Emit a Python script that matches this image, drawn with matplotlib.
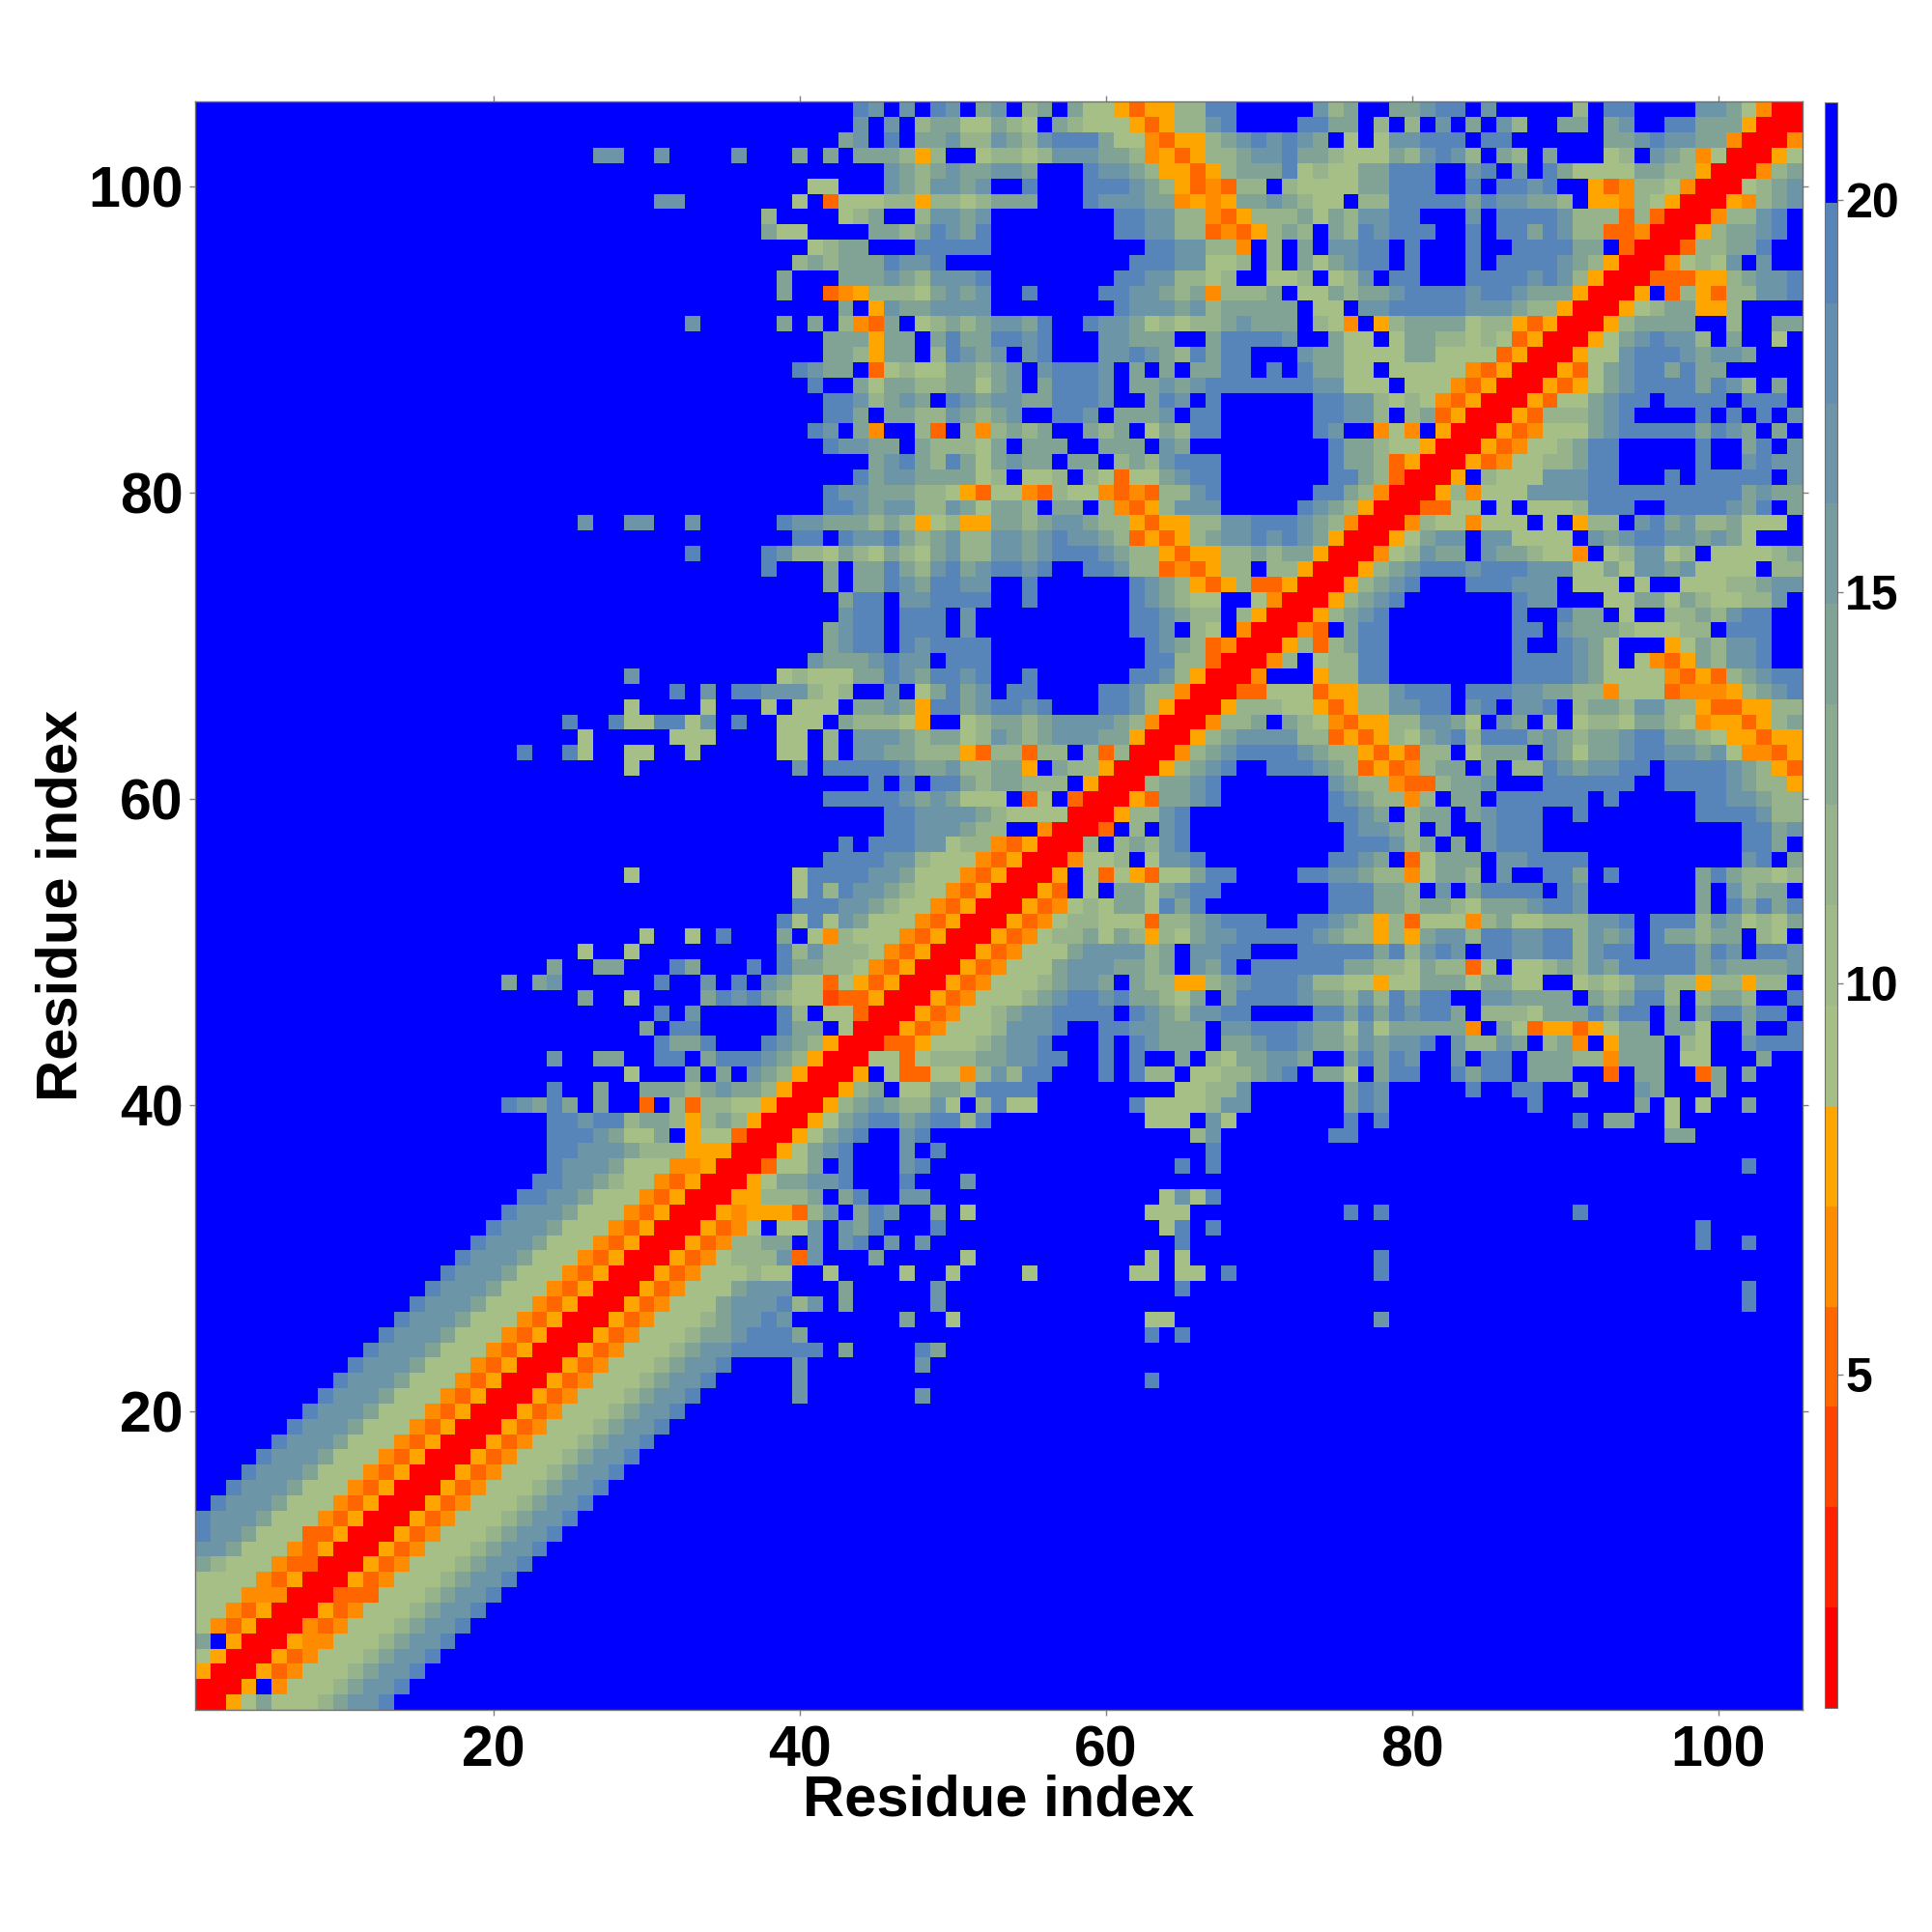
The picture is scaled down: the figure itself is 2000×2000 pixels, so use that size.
import numpy as np
import matplotlib
matplotlib.use("Agg")
import matplotlib.pyplot as plt
from matplotlib.colors import ListedColormap, BoundaryNorm

# Distance per symbol ('.' = beyond cut-off)
SYMBOLS = {'0': 1.5, '2': 4.0, '3': 5.2, '4': 6.5, '5': 7.8, 'g': 9.5,
           'h': 11.5, 'i': 14.0, 'j': 16.5, 'k': 19.0, '.': 20.6}
TICKS = [20, 40, 60, 80, 100]
CBAR_TICKS = [5, 10, 15, 20]
LEVELS = np.linspace(0.75, 21.25, 17)
COLORS = ['#ff0000', '#ff2000', '#ff4500', '#ff6600', '#ff8c00', '#ffa500',
          '#a5bf86', '#9fba88', '#97b38c', '#8bab90', '#81a396', '#779c9f',
          '#6d95a8', '#648eb0', '#5885b9', '#0000ff']
LABEL = "Residue index"

B = "kjjjiggg435000534ggghijjk"
# residues 1-37, keyed by row index
LEFT = {
 102: '.'*26+"jj..j....j", 99: '.'*30+"jj", 91: '.'*32+"j", 78: '.'*25+"j..jj..j", 76: '.'*32+"k",
 68: '.'*28+"j", 67: '.'*31+"k.j.kk", 66: '.'*28+"g....g",
 65: '.'*24+"k..kggkkgj.k", 64: '.'*25+"g.....ggg",
 63: '.'*21+"k..kg..gg..g", 62: '.'*28+"g", 55: '.'*28+"g",
 51: '.'*29+"g..g.k", 50: '.'*25+"g..g", 49: '.'*23+"i..ii...ki...k",
 48: '.'*20+"i.ij......k..j.k", 47: '.'*25+"i..g....ikjk", 46: '.'*30+"k.j",
 45: '.'*29+"i.kk", 44: '.'*30+"kiik", 43: '.'*23+"j..ii..kk.ikkk",
 42: '.'*28+"g...i.i.j", 41: '.'*23+"k..i..iiihijii", 40: '.'*20+"kjiki.i..3.h3hhgg",
 39: '.'*23+"kkjkkhiih5hih5", 38: '.'*23+"kkkjiggi.5gg30", 37: '.'*23+"kkjjjihhh55500",
 36: '.'*23+"kjjjiggg445000", 35: '.'*22+"kkjjihgg4350005", 34: '.'*21+"kkjjiggg43500055",
 33: '.'*20+"kjjjiggg435000545", 32: '.'*19+"kjjjiggg435000534g", 31: '.'*18+"kjjjiggg435000534hh",
 30: '.'*17+"kjjjiggg435000534ghh", 29: '.'*16+"kjjjiggg435000534gggh",
 28: '.'*15+"kjjjiggg435000534gggij", 27: '.'*14+"kjjjiggg435000534gggijj",
 26: '.'*13+"kjjjiggg435000534ggghijj", 25: '.'*12+"kjjjiggg435000534ggghiijk",
 24: '.'*11+"kjjjiggg435000534ggghijjkk", 23: '.'*10+B, 22: '.'*9+B, 21: '.'*8+B,
 20: '.'*7+B, 19: '.'*6+B, 18: '.'*5+B, 17: '.'*4+B, 16: '.'*3+B, 15: '.'*2+B, 14: '.'+B, 13: B,
 12: "kjjiggg335000534ggghijjk", 11: "jjiggg435000534ggghijjk", 10: "ihggg433000534ggghijjk",
 9: "gggg435000534ggghijjk", 8: "ggg444000333ggghijjk", 7: "gg435000534ggghijjk",
 6: "g435000434ggghijjk", 5: "i.5000544ggghijjk", 4: "g5000534ggghijjk",
 3: "5000534ggghijjk", 2: "0005.4ggghijjk", 1: "005giggghijjk",
}

# residues 38-71, rows 105 downwards
MID = [
 "......kj.j.kj.ij.hi.igg5355hhkk...", "......j.j.hiiggihg.ihggg535hhjk...",
 ".....ij.k.iijhhjihjkkkigg4355hijkj", "..i.i.iiih5h..ghhghjjjiih4535hhijj",
 "........jihijiijji...kjjih5535hiii", "...gg...jihjjij..k...kkkjih5343hh.",
 "..g.3ggghh5hhghiii...kjjjii4545iij", "h....ghi..hjjij........kkjjhh435hh",
 "igg....iihikjik........kkjjhh3435h", "...ghii...kkkkk..........kkjjhh4.h",
 "..hihiiikjjk............kkkjjggh.h", ".i...iiijihjjjk........kkjjhhgh..g",
 ".i..345hhhgijij..k....kkjjihi4hhhi", ".....i.5jiijjjj........kjjjijhiiii",
 ".i.i.h43i.ghihijjik..kjjighghhijii", "....iii5ii.ikiikkjk...jjiii..ikkkk",
 "....iih5ii.hkjij.jk...jjkjihkikk..", "..kjii.3ghggiihij.jkkkj.i.i.iikk.k",
 "...k..igiihhiigij.ikkkj.iijijkkkkk", "....kkjhiji.kjijjiikkkj..ikj.k....",
 "....kki.iihhjihij..kkj.iiij.kk....", "...kj.i4..h3.h4hihi..ihi.gihkk....",
 "....kjjii.ihhhgi.iii..iii.ji......", ".......ijkihkigijii.ii.hihjkkk....",
 "......kijjiiiigh.ggh.hg3ggijkk....", "....kjjiiihhg53gg43hgg4343hhjk....",
 "....kkjijjhhjigiih.ii.h435hjjj....", ".kjjiiihih5gh55iihijjihh5355hhjjkk",
 "..kk.kjjkihijhhjjijkjjih3535hijjkj", "kjhhgihgihgijhhjjijkkkjihh5355hhih",
 "k...i.iikihjkijkkjk..kkjhh3435hh.h", "....i.iikjikkjj..k......kjih535h33",
 ".....ikk.jjkkkk..k......kjihgg..g4", ".....jkk.kkk.j..........kkjihh.h50",
 "....ijkk.kkk.j..........kkj.hg.400", "....ijkk.kjkkkk..........kjih34000",
 "...jiiijkjj.kkk..........kkhh30004", ".ghgggiikjikkjk..k......kkjh50004.",
 "jjjhgh..j.gikij.kk....kkjhh400033g", "g.ggg.iiji5kkijkkjk...kkjh50005hhh",
 ".ggg.ihhhg5..ghiihijjjjih40004hhi.", ".gg.h.jjjihiighjihijjjii50005hijjj",
 ".gg.h.jjiihhh53hh3hh.h3h0004hijkkk", "..j.kkkkkjiijhhii5.ihh50005hijk..k",
 ".......k.k.kkihiihhh.5000hiijk....", "....kkkkkjijiggg.3g.300053iijk....",
 "........kkjjjjihgggg0005hhjk......", "........kkjjjihh..40003.h.jk......",
 ".....k.kkkjjghh435000h.hihjk......", "....kkkkjjhggg4350004ggh.gjjk.....",
 "..gkkkkjjiggg4350005.g3g53ggikk...", "..gkhkjjihgg43500053.g.iigijkk....",
 "..kkkjjihgg435000534ghgiigkik.....", ".kgkgjiggg435000534ghhggg3hhijkkk.",
 ".i.g4hggg435000534ghhigih5hgijjkkk", ".khjhhhg435000534gggijjjjhi.jjkk..",
 ".kiihhg435000534gggijjjiihi.jik.kk", "jigg3g535000534ggghijji.ihh55hijkk",
 "ihgg2335000534ggghijkkjkiihgi.ikkk", ".kh.gg3000534gghijjkkkk.kjihjjkk..",
 ".kii.g000534ggghjjjk..kkjjiii.jjkk", "kjih5000335ggghijjk...k.kjiii.iijk",
 "jih5000gg3ghhhiijjkk..k.k..i.hgiij", "ih50005.g33gg4hjhkk...k.khh.gghhij",
 "h50005hi.ggiihkkkk.........gghhj..", "50005hijihhjg.hkgg......kgggghjj..",
 "0005gijkkijkkhk..........ggg.jg...", "005gijk..jk.................hj....",
 "05gijk...j.k.................k....", "3ggi.k...jk................k.k....",
 "giijjk...k...j", "hhhi.ik..jj...............gjgk",
 "553hj.ikj..i.g...........ggg......", ".ggj.jik...k..............gk.k....",
 "ii.j.jk.j.j................k......", "hj3j...i.....g...........g.g......",
 "gg..g....g..g....g......gg.gg.k...", "jj...i.....j...............k......",
 "jkhj.i.....j", "kj.......i..g............gg.......",
 "kki......................k.k......", "kkkk.i....ki",
 "..j.......j", "..j......................k", "..j.......j",
]

# residues 72-105, rows 105 downwards
RIGHT = [
 "..jhi..iijkk.j.....h.kk....jjig400", ".kkii.h.h.j.i.jh..ii.ij..kkiii5000",
 "kji.g.gjjkkk.kk......iijkjjii40004", "kiihgggihjkjh.ih.i...gh.jih4g0005g",
 "kghggiikkk..jk.j.kiggggiihh50004hi", "hggggiikkk..k.kkjk..534hhg4000ghij",
 "ihgg.hhkkkkkikjjiih.554hg500054hij", "higihjjkk...j.kkkkjhhh3h30004hhjk.",
 "ih.ihkjkkk..k.kkikjhh3340005hiijk.", ".i.jjkk.k...k..kkkkii.30003hhiik..",
 ".igijkk.k...k.kkkkjih50004ghgj.j..", "gh.ghj.kk...kkkkjkjh500033355hijjk",
 ".ggihiijkkkkjkkjiii50005.3h53hhjjk", "i.gg.jjkkkkkjjjihh50005ghii55h....",
 "i.hg4.5hiiiighh5350005hiiii..h..ii", "j..igg.giihhghg350005gijkjjh.i..g.",
 ".jiiggggiigggg350005ggjkkkjijji...", ".kiigg.ggggg43500053gijkkikii.....",
 "kkjjggg.ggg435000535gijkkkkikjh.i.", "..kkjjhghg43500053ggijkk.kkkk.kkk.",
 "..kkjjh.hi3500053hhhijk....k.k.k.j", "..kj..4g4.5000534gggijkkkkkikji.i.",
 "...kiihgg5000534gghikk.....k..ik.j", "...kiih35000534gghhikk.....k..jkjj",
 "...kkih30005.hgggjjjkk...k.kkkkk.j", "..kkih40005h4gggjjjjkkkkkkkkkkijii",
 ".kjih500033gg.g.ggghkkk..kkkkjik.i", "kjih40004hgg4ggg.g.5hh.jkijhhiggg.",
 "kji50005gijj.jjgggg.jijkkjjijig...", "ii50004ghjii.jiihgg4.ghjjgh.gggghi",
 "h50005hijkkkjkkkjjjggigjjijgggg.hh", "50005hijk...kkkjjj.ggg.g..ggghhijj",
 "0005hijk.......kjj...ggiigihgghhj.", "005hijk........k..kii.g..hhihjkk..",
 "043.ikk........kk.jiiihggghh.kkk..", "5h3hikk........k..kjig...5gihjjk..",
 "h.ghhkk........kkkkjig.g435ihjjk..", "..5hhkk........kkkkjigggg4353hijkk",
 "gg355hhjkkk.kkkjjiihh4ggg34445hijk", "gg535hhjjkk.jk.jjk.hiihjjhh53355hh",
 "ihg4355hhjjig.ji.h.ghhgiihg45535hi", "jhh3535hgijkhkkkijihiijkkiihg55355",
 "kjihh5353hh.giii.jigiijkkjjijg4435", "kkjih3534hii.i.hhkjijjkk.kkkkjih53",
 "...jihh433hiij...kkkkkk..kkkkjihh5", "...kjihh4h.ii.kkkkkk.k.....kkjjihh",
 "...kkji.hii.ijkkk..k.......kkkkjhh", "....kjjih.i..jkkk.............kkij",
 "....kkkjhi.i.jkkk.............kki.", "...kkji.3giii.jjkkkk..........jk.i",
 ".kkjjihh4giih.j..kki.k.....ikihhgh", "...kkkiih.j.ikkkk.kj.......i.jhii.",
 "...kkkiihiihgiiijkkj.......i.kikik", ".kkjih5h3ggg4higghhhjjk.kkkhjighgi",
 "kkjihh5h5ijjhkkjjkkhjij.kiihii.hg.", ".kkkkkikhjkj.kkjjkkhjkk.kkkikj.kkj",
 "kkkkiihhgihh3g.gghihjikkkkkijiiiij", "kjhhgg5ggiiigiigg..ghghjjhh5hh5hh.",
 "kjiihjhkikk..jjiiii.ihikkh.hiih..k", "..kkikikjkki.hhhgiiikikk.i.ikkikk.",
 "kjiigjgiiiii4.ig35535gii.iig..i..k", "kjiihjijjk.jhhji.hi4.5iii.hg..jkkk",
 "ji..ikikj..j.kk.iiihh4iii.gg...i..", "k.iig.ikk..kikk.iii..3.ii..3i.i...",
 "....ikj.....k..kk..i...ji...i.....", "....ikj.........k......i.g.g..i...",
 "....k.k............k.ii..g........", "...kk....................ii.......",
 "", '.'*30+"k", "", "",
 "....k.k"+'.'*12+"k", '.'*27+"k", '.'*27+"k..k", '.'*6+"k", '.'*6+"k",
 '.'*30+"k", '.'*30+"k", '.'*6+"j",
]

assert all(len(s) <= 34 for s in MID + RIGHT)
assert all(len(s) <= 37 for s in LEFT.values())

N = 105
grid = np.zeros((N, N))
for v in range(1, N + 1):
    k = N - v
    left = LEFT.get(v, "").ljust(37, '.')
    mid = (MID[k] if k < len(MID) else "").ljust(34, '.')
    right = (RIGHT[k] if k < len(RIGHT) else "").ljust(34, '.')
    grid[v - 1] = [SYMBOLS[c] for c in left + mid + right]

plt.rcParams['font.family'] = ['Liberation Sans', 'DejaVu Sans']
plt.rcParams['font.weight'] = 'bold'

fig = plt.figure(figsize=(20, 20), dpi=100)
ax = fig.add_axes([202/2000, 1 - 1770/2000, (1866-202)/2000, (1770-105.4)/2000])
cmap = ListedColormap(COLORS)
norm = BoundaryNorm(LEVELS, cmap.N)
im = ax.pcolormesh(np.arange(0.5, N + 1), np.arange(0.5, N + 1), grid,
                   cmap=cmap, norm=norm, shading='flat', rasterized=True)
ax.set_xlim(0.5, 105.5)
ax.set_ylim(0.5, 105.5)
ax.set_xticks(TICKS)
ax.set_yticks(TICKS)
ax.tick_params(axis='both', direction='out', length=4.5, width=1.0, color='#808080',
               top=True, right=True, labelsize=42.5)
ax.tick_params(axis='x', pad=7)
ax.tick_params(axis='y', pad=4.5)
for s in ax.spines.values():
    s.set_color('#707070')
    s.set_linewidth(1.0)
ax.set_xlabel(LABEL, fontsize=43, fontweight='bold')
ax.set_ylabel(LABEL, fontsize=43, fontweight='bold')
ax.xaxis.set_label_coords(0.5, -(1836 - 1770) / 1664.6)
ax.yaxis.set_label_coords(-(202 - 91) / 1664, 0.5)

cax = fig.add_axes([1889/2000, 1 - 1768/2000, 13/2000, (1768-106)/2000])
cb = fig.colorbar(im, cax=cax, ticks=CBAR_TICKS, spacing='proportional')
cb.ax.tick_params(direction='out', length=4.5, width=1.0, color='#808080', labelsize=36, pad=1.5)
cb.outline.set_edgecolor('#707070')
cb.outline.set_linewidth(0.8)
cb.ax.minorticks_off()

fig.savefig("out.png", dpi=100, facecolor='white')
